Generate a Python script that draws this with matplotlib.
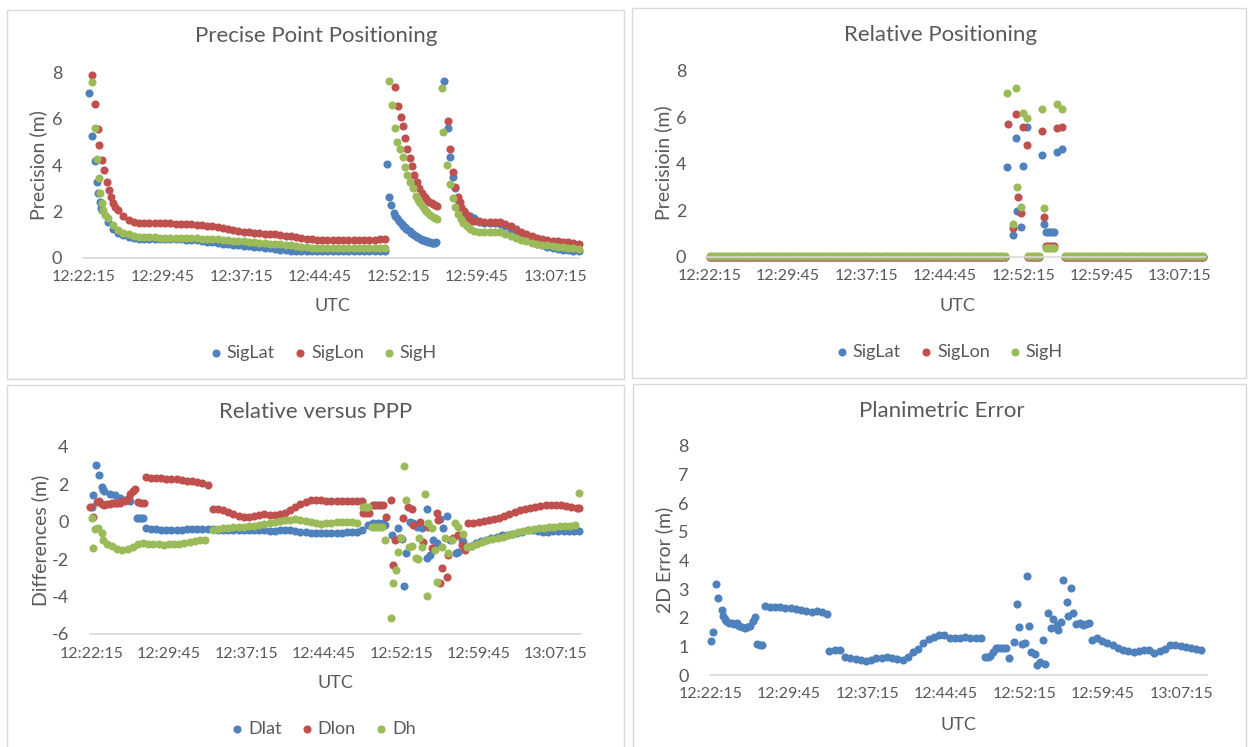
import numpy as np
import matplotlib
matplotlib.use("Agg")
import matplotlib.pyplot as plt
from matplotlib.patches import Rectangle

plt.rcParams['font.family'] = ['Lato', 'DejaVu Sans']
plt.rcParams['axes.unicode_minus'] = False

BLUE = "#4F81BD"
RED = "#C0504D"
GREEN = "#9BBB59"
TXT = "#595959"
LINE = "#D9D9D9"

# times are minutes after 12:00:00 UTC
tick_labels = ["12:22:15", "12:29:45", "12:37:15", "12:44:45", "12:52:15", "12:59:45", "13:07:15"]

# ---------------- Precise Point Positioning (SigLat / SigLon / SigH) ----------------
# isolated points (t, value) and runs (start, step, values)
ppp_lat_pts = [(22.75, 7.10), (23.00, 5.27), (23.27, 4.16), (23.45, 3.25), (23.60, 2.80), (23.75, 2.40), (23.90, 2.15),
               (51.16, 4.05), (51.41, 2.64), (51.60, 2.27), (51.85, 1.92), (52.00, 1.80), (52.15, 1.70), (52.30, 1.60),
               (52.45, 1.52), (52.60, 1.45), (52.75, 1.38), (52.90, 1.30), (53.05, 1.25), (53.20, 1.20), (53.35, 1.14),
               (53.50, 1.08), (53.65, 1.02), (53.80, 0.97), (53.95, 0.92), (54.10, 0.88), (54.25, 0.84), (54.40, 0.80),
               (54.55, 0.77), (54.70, 0.74), (54.85, 0.72), (55.00, 0.70), (55.15, 0.68), (55.30, 0.66), (55.45, 0.64),
               (55.60, 0.63), (55.75, 0.63), (55.90, 0.65),
               (56.66, 7.62), (57.04, 5.60), (57.20, 4.37), (57.46, 3.50), (57.68, 3.00), (57.99, 2.50), (58.30, 2.06),
               (58.55, 1.92), (58.80, 1.85), (59.10, 1.78)]
ppp_lat_runs = [(24.0, 0.5, [2.05, 1.55, 1.25, 1.08, 0.98, 0.90, 0.85, 0.82, 0.81, 0.80, 0.80, 0.80, 0.79, 0.79, 0.78,
                             0.78, 0.77, 0.76, 0.74, 0.72, 0.69, 0.66, 0.63, 0.60, 0.57, 0.55, 0.52, 0.50, 0.48, 0.46,
                             0.44, 0.42, 0.39, 0.37, 0.34, 0.32, 0.30, 0.28, 0.27, 0.27, 0.26, 0.26, 0.26, 0.26, 0.26,
                             0.26, 0.26, 0.26, 0.26, 0.26, 0.27, 0.27, 0.27, 0.27, 0.27]),
                (59.5, 0.5, [1.70, 1.55, 1.50, 1.50, 1.48, 1.46, 1.38, 1.25, 1.10, 0.95, 0.82, 0.70, 0.60, 0.52, 0.45,
                             0.40, 0.36, 0.33, 0.31, 0.29, 0.28])]

ppp_lon_pts = [(23.00, 7.88), (23.27, 6.64), (23.56, 5.56), (23.72, 4.88), (24.00, 4.20), (24.20, 3.80), (24.40, 3.25),
               (24.65, 2.93), (24.85, 2.60), (25.05, 2.35), (25.25, 2.18),
               (51.95, 7.36), (52.20, 6.54), (52.49, 6.07), (52.68, 5.70), (52.90, 5.17), (53.13, 4.69), (53.38, 4.30),
               (53.60, 3.97), (53.76, 3.58), (54.02, 3.25), (54.27, 3.00), (54.50, 2.78), (54.81, 2.60), (55.05, 2.50),
               (55.23, 2.42), (55.45, 2.36), (55.61, 2.32), (55.80, 2.27), (55.93, 2.25),
               (57.04, 5.92), (57.20, 4.69), (57.46, 3.72), (57.68, 3.07), (57.93, 2.64), (58.15, 2.40), (58.30, 2.20),
               (58.55, 2.00), (58.80, 1.85), (59.05, 1.70), (59.27, 1.60)]
ppp_lon_runs = [(25.5, 0.5, [2.05, 1.80, 1.62, 1.53, 1.50, 1.50, 1.49, 1.50, 1.49, 1.48, 1.48, 1.47, 1.46, 1.45, 1.44,
                             1.42, 1.40, 1.38, 1.36, 1.32, 1.28, 1.24, 1.20, 1.16, 1.12, 1.10, 1.07, 1.05, 1.03, 1.01,
                             1.00, 0.97, 0.94, 0.91, 0.88, 0.85, 0.82, 0.79, 0.77, 0.76, 0.76, 0.76, 0.76, 0.76, 0.77,
                             0.76, 0.76, 0.76, 0.76, 0.77, 0.78, 0.78]),
                (59.5, 0.5, [1.58, 1.56, 1.55, 1.55, 1.54, 1.52, 1.45, 1.35, 1.22, 1.12, 1.02, 0.93, 0.86, 0.80, 0.76,
                             0.73, 0.70, 0.68, 0.65, 0.62, 0.58])]

ppp_h_pts = [(23.00, 7.58), (23.27, 5.60), (23.50, 4.26), (23.65, 3.43), (23.80, 2.78), (23.95, 2.35), (24.10, 2.05),
             (24.25, 1.85),
             (51.41, 7.65), (51.66, 6.60), (51.95, 5.60), (52.17, 5.02), (52.43, 4.69), (52.68, 4.33), (52.90, 3.91),
             (53.13, 3.58), (53.38, 3.29), (53.70, 3.00), (53.95, 2.67), (54.15, 2.50), (54.34, 2.35), (54.60, 2.18),
             (54.81, 2.06), (55.05, 1.95), (55.29, 1.85), (55.55, 1.76), (55.77, 1.70), (55.99, 1.66),
             (56.41, 7.33), (56.57, 5.45), (56.88, 4.00), (57.20, 3.19), (57.46, 2.57), (57.68, 2.20), (57.99, 1.89),
             (58.25, 1.65), (58.48, 1.49), (58.80, 1.35), (59.11, 1.23)]
ppp_h_runs = [(24.5, 0.5, [1.70, 1.40, 1.20, 1.08, 1.00, 0.93, 0.90, 0.88, 0.87, 0.87, 0.86, 0.86, 0.85, 0.85, 0.84,
                           0.84, 0.83, 0.83, 0.82, 0.81, 0.80, 0.78, 0.77, 0.75, 0.73, 0.72, 0.70, 0.68, 0.66, 0.64,
                           0.62, 0.60, 0.59, 0.57, 0.55, 0.52, 0.49, 0.46, 0.44, 0.42, 0.41, 0.40, 0.39, 0.39, 0.39,
                           0.40, 0.40, 0.40, 0.40, 0.40, 0.41, 0.41, 0.41, 0.41]),
              (59.5, 0.5, [1.15, 1.12, 1.12, 1.12, 1.12, 1.10, 1.02, 0.93, 0.84, 0.76, 0.70, 0.64, 0.60, 0.55, 0.52,
                           0.49, 0.46, 0.44, 0.42, 0.40, 0.38])]

# ---------------- Relative Positioning ----------------
# epochs where all three sigmas sit on zero
rel_zero_spans = [(22.25, 50.5), (52.75, 53.75), (56.25, 69.5)]
rel_zero_level = {"SigLat": -0.02, "SigLon": 0.0, "SigH": 0.03}
rel_lat_pts = [(50.74, 3.84), (51.32, 0.93), (51.54, 5.09), (51.64, 1.98), (52.05, 1.26), (52.27, 3.90), (52.60, 5.56),
               (54.03, 4.36), (54.25, 1.40), (54.45, 1.08), (54.65, 1.08), (54.85, 1.08), (55.05, 1.08), (55.25, 1.08),
               (55.46, 4.52), (56.00, 4.63)]
rel_lon_pts = [(50.78, 5.70), (51.32, 1.22), (51.54, 6.14), (51.73, 2.58), (52.05, 1.86), (52.27, 5.59), (52.60, 4.80),
               (54.03, 5.40), (54.25, 1.72), (54.45, 0.46), (54.65, 0.46), (54.85, 0.46), (55.05, 0.46), (55.25, 0.46),
               (55.46, 5.52), (56.00, 5.59)]
rel_h_pts = [(50.74, 7.03), (51.32, 1.40), (51.54, 7.27), (51.70, 3.01), (52.05, 2.12), (52.27, 6.16), (52.60, 5.95),
             (54.03, 6.34), (54.25, 2.08), (54.45, 0.36), (54.65, 0.36), (54.85, 0.36), (55.05, 0.36), (55.25, 0.36),
             (55.46, 6.57), (56.00, 6.35)]

# ---------------- Relative versus PPP (Dlat / Dlon / Dh) ----------------
rvp_lat_pts = [(22.27, 0.80), (22.43, 1.42), (22.71, 3.00), (23.00, 2.49), (23.24, 1.86), (23.40, 1.69),
               (26.63, 0.20), (26.85, 0.20), (27.05, 0.20), (27.27, 0.20),
               (50.70, -0.18), (51.34, -0.71), (51.98, -0.36), (52.30, -0.91), (52.53, -3.42), (52.72, -1.69),
               (53.11, 0.00), (53.43, -0.09), (53.76, -0.30), (54.24, -0.36), (54.73, 0.70), (54.79, -1.96),
               (55.05, -1.78), (55.37, -0.98), (55.70, -1.16), (56.02, 0.12), (56.28, -0.36), (56.73, 0.30),
               (56.99, -0.98), (57.57, -1.69), (57.80, -1.60), (58.12, -0.98), (58.28, -1.07)]
rvp_lat_runs = [(23.5, 0.5, [1.65, 1.50, 1.42, 1.28, 1.18, 1.08]),
                (27.5, 0.5, [-0.36, -0.42, -0.42, -0.43, -0.43, -0.43, -0.43, -0.43, -0.42, -0.42, -0.42, -0.42,
                             -0.42, -0.42, -0.43, -0.44, -0.45, -0.45, -0.46, -0.46, -0.47, -0.47, -0.46, -0.47,
                             -0.50, -0.48, -0.47, -0.47, -0.47, -0.50, -0.55, -0.58, -0.60, -0.60, -0.60, -0.60,
                             -0.60, -0.60, -0.60, -0.58, -0.58, -0.56, -0.45, -0.20, -0.06, -0.06, -0.08]),
                (58.5, 0.5, [-1.35, -1.28, -1.15, -1.05, -0.98, -0.90, -0.80, -0.74, -0.70, -0.64, -0.60, -0.55,
                             -0.47, -0.45, -0.50, -0.57, -0.58, -0.52, -0.50, -0.48, -0.48, -0.48, -0.48])]

rvp_lon_pts = [(22.10, 0.80), (22.43, 0.26),
               (48.60, 0.47), (48.85, 0.45), (49.10, 0.47),
               (50.79, 0.26), (51.24, 1.15), (51.43, -2.32), (51.66, -0.98), (52.14, -0.89), (52.47, 0.17),
               (52.95, 0.79), (53.27, 0.67), (53.43, -0.18), (54.08, 0.00), (54.40, -1.07), (54.89, -0.27),
               (55.21, -1.43), (55.70, 0.44), (55.86, 0.09), (56.02, -3.29), (56.18, -2.49), (56.73, -2.98),
               (56.83, -1.78), (57.31, -0.89), (57.80, -0.71), (58.12, -1.25), (58.44, -1.51), (69.45, 0.71)]
rvp_lon_runs = [(22.75, 0.25, [1.06, 1.12, 0.95, 0.90, 0.92, 0.95, 0.97, 0.98, 1.00, 1.02, 1.08, 1.12, 1.20, 1.45,
                               1.62, 1.72]),
                (26.8, 0.25, [1.06, 1.02, 1.00]),
                (27.5, 0.5, [2.36, 2.34, 2.32, 2.32, 2.30, 2.30, 2.28, 2.22, 2.18, 2.16, 2.12, 2.08, 1.98]),
                (34.0, 0.5, [0.70, 0.67, 0.60, 0.50, 0.42, 0.32, 0.27, 0.26, 0.30, 0.38, 0.40, 0.37, 0.35, 0.40,
                             0.48, 0.60, 0.76, 0.92, 1.05, 1.15, 1.18, 1.15, 1.10, 1.10, 1.08, 1.08, 1.10, 1.10,
                             1.10, 1.12]),
                (49.5, 0.25, [0.88, 0.88, 0.88, 0.88, 0.88]),
                (58.75, 0.5, [-0.09, -0.05, 0.00, 0.03, 0.08, 0.13, 0.20, 0.30, 0.42, 0.53, 0.60, 0.66, 0.71, 0.76,
                              0.82, 0.87, 0.88, 0.88, 0.88, 0.85, 0.80, 0.74])]

rvp_h_pts = [(22.27, 0.17), (22.43, -1.43), (22.59, -0.41), (22.90, -0.36), (23.24, -0.63), (23.40, -0.98),
             (48.60, 0.79), (48.85, 0.79), (49.07, 0.79),
             (50.69, -0.98), (51.24, -5.17), (51.43, -3.26), (51.76, -2.59), (51.98, -1.60), (52.21, -0.89),
             (52.53, 2.99), (52.72, 1.15), (53.05, -1.34), (53.27, -1.30), (53.69, -1.96), (53.92, -2.01),
             (54.02, -0.89), (54.24, -1.34), (54.57, 1.47), (54.73, -3.97), (54.89, -0.09), (55.21, -0.36),
             (55.53, -1.51), (55.70, -3.20), (56.18, -1.34), (56.50, -0.89), (56.83, -1.69), (57.15, -0.98),
             (57.47, -0.06), (57.80, -0.27), (58.28, -0.66), (69.45, 1.54)]
rvp_h_runs = [(23.75, 0.5, [-1.20, -1.30, -1.45, -1.52, -1.48, -1.35, -1.22, -1.15, -1.18, -1.20, -1.22, -1.25,
                            -1.22, -1.22, -1.20, -1.15, -1.08, -1.03, -1.00, -0.98]),
              (34.0, 0.5, [-0.45, -0.40, -0.35, -0.32, -0.30, -0.28, -0.27, -0.26, -0.24, -0.20, -0.12, -0.06,
                           0.00, 0.04, 0.06, 0.10, 0.12, 0.10, 0.05, 0.00, -0.08, -0.12, -0.10, -0.06, -0.04,
                           -0.02, -0.02, -0.03, -0.05]),
              (49.4, 0.25, [-0.31, -0.31, -0.31, -0.31, -0.31]),
              (58.6, 0.5, [-1.34, -1.28, -1.20, -1.10, -1.00, -0.95, -0.88, -0.80, -0.72, -0.65, -0.58, -0.50,
                           -0.43, -0.40, -0.35, -0.32, -0.30, -0.28, -0.25, -0.24, -0.22, -0.20])]

# ---------------- Planimetric Error ----------------
pe_pts = [(22.23, 1.20), (22.43, 1.51), (22.74, 3.17), (22.97, 2.70), (23.29, 2.26), (23.45, 2.06), (23.60, 1.95),
          (26.70, 1.08), (26.95, 1.05), (27.20, 1.03),
          (50.82, 0.58), (51.26, 1.16), (51.52, 2.47), (51.74, 1.68), (52.06, 1.08), (52.31, 1.10), (52.54, 3.46),
          (52.73, 1.72), (52.86, 0.81), (53.27, 0.73), (53.49, 0.35), (53.75, 0.46), (54.00, 1.22), (54.23, 0.38),
          (54.48, 2.17), (54.77, 1.63), (55.03, 1.97), (55.34, 1.74), (55.50, 1.57), (55.73, 1.86), (55.98, 3.33),
          (56.30, 2.56), (56.46, 2.06), (56.68, 3.05), (56.94, 2.15), (57.19, 1.78), (57.58, 1.82), (57.90, 1.74),
          (58.20, 1.78), (58.47, 1.82)]
pe_runs = [(23.75, 0.25, [1.88, 1.82, 1.80, 1.78, 1.80, 1.72, 1.68, 1.64, 1.68, 1.72, 1.90, 2.03]),
           (27.4, 0.5, [2.40, 2.37, 2.36, 2.36, 2.35, 2.33, 2.30, 2.28, 2.25, 2.20, 2.22, 2.20, 2.12]),
           (33.6, 0.5, [0.85, 0.86, 0.87, 0.64, 0.60, 0.55, 0.52, 0.50, 0.52, 0.58, 0.60, 0.64, 0.60, 0.55, 0.52,
                        0.62, 0.80, 0.90, 1.13, 1.26, 1.34, 1.38, 1.38, 1.30, 1.28, 1.30, 1.31, 1.30, 1.30, 1.30]),
           (48.5, 0.25, [0.64, 0.64, 0.66, 0.80, 0.93, 0.93, 0.93, 0.93, 0.93]),
           (58.7, 0.5, [1.22, 1.28, 1.18, 1.12, 1.06, 0.95, 0.87, 0.82, 0.81, 0.84, 0.86, 0.86, 0.78, 0.82, 0.92,
                        1.03, 1.05, 1.02, 0.97, 0.93, 0.89, 0.87])]


def to_min(s):
    h, m, sec = map(int, s.split(":"))
    return (h - 12) * 60 + m + sec / 60


def expand(pts, runs=()):
    t = [p[0] for p in pts]
    v = [p[1] for p in pts]
    for start, step, vals in runs:
        t += [start + step * i for i in range(len(vals))]
        v += list(vals)
    return np.array(t), np.array(v)


def zero_runs(level, step=0.25):
    runs = []
    for a, b in rel_zero_spans:
        n = int(round((b - a) / step)) + 1
        runs.append((a, step, [level] * n))
    return runs


W, H = 1248, 747
fig = plt.figure(figsize=(W / 100, H / 100), dpi=100)


def box(x0, y0, x1, y1):
    return [x0 / W, 1 - y1 / H, (x1 - x0) / W, (y1 - y0) / H]


def ftext(x, y, s, **kw):
    fig.text(x / W, 1 - y / H, s, color=TXT, ha="center", va="center", **kw)


# chart frames
for x0, y0, x1, y1 in [(7, 10, 624, 379), (632, 8, 1246, 378), (7, 385, 624, 760), (633, 384, 1246, 760)]:
    fig.add_artist(Rectangle((x0 / W, 1 - y1 / H), (x1 - x0) / W, (y1 - y0) / H, transform=fig.transFigure,
                             fill=False, ec=LINE, lw=1.0))

MS = 34
TITLE_FS = 16
LABEL_FS = 13
YLABEL_FS = 14


def setup(ax, xlim, ylim, yticks):
    ax.set_xlim(*xlim)
    ax.set_ylim(*ylim)
    ax.set_yticks(yticks)
    ax.set_xticks([to_min(s) for s in tick_labels])
    ax.set_xticklabels(tick_labels)
    for side in ["top", "right", "left"]:
        ax.spines[side].set_visible(False)
    ax.spines["bottom"].set_color(LINE)
    ax.spines["bottom"].set_linewidth(1.2)
    ax.tick_params(axis="x", length=0, pad=9, labelsize=11.5, labelcolor=TXT)
    ax.tick_params(axis="y", length=0, pad=15, labelsize=13, labelcolor=TXT)
    ax.patch.set_alpha(0)


def legend(ax, handles, labels, x, y):
    ax.legend(handles, labels, loc="center", bbox_to_anchor=(x / W, 1 - y / H), bbox_transform=fig.transFigure,
              ncol=3, frameon=False, fontsize=13, labelcolor=TXT, handletextpad=0.1, columnspacing=0.9,
              handlelength=1.0, borderaxespad=0, markerscale=1.0)


# panel 1
ax1 = fig.add_axes(box(83, 72.7, 579, 257.5))
hs = []
for (pts, runs), col in zip([(ppp_lat_pts, ppp_lat_runs), (ppp_lon_pts, ppp_lon_runs), (ppp_h_pts, ppp_h_runs)],
                            [BLUE, RED, GREEN]):
    t, v = expand(pts, runs)
    hs.append(ax1.scatter(t, v, s=MS, color=col, lw=0, clip_on=False))
setup(ax1, (22.15, 69.53), (0, 8), [0, 2, 4, 6, 8])
legend(ax1, hs, ["SigLat", "SigLon", "SigH"], 322, 353)
ftext(316, 36, "Precise Point Positioning", fontsize=TITLE_FS)
ftext(38, 165, "Precision (m)", fontsize=YLABEL_FS, rotation=90)
ftext(332, 306, "UTC", fontsize=LABEL_FS)

# panel 2
ax2 = fig.add_axes(box(707, 70.7, 1205, 256.7))
hs = []
for pts, lvl, col in zip([rel_lat_pts, rel_lon_pts, rel_h_pts], ["SigLat", "SigLon", "SigH"], [BLUE, RED, GREEN]):
    t, v = expand(pts, zero_runs(rel_zero_level[lvl]))
    hs.append(ax2.scatter(t, v, s=MS, color=col, lw=0, clip_on=False))
setup(ax2, (22.0, 69.66), (0, 8), [0, 2, 4, 6, 8])
legend(ax2, hs, ["SigLat", "SigLon", "SigH"], 948, 352)
ftext(941, 35, "Relative Positioning", fontsize=TITLE_FS)
ftext(663, 163, "Precisioin (m)", fontsize=YLABEL_FS, rotation=90)
ftext(957, 306, "UTC", fontsize=LABEL_FS)

# panel 3
ax3 = fig.add_axes(box(89.5, 446.7, 581, 634))
hs = []
for (pts, runs), col in zip([(rvp_lat_pts, rvp_lat_runs), (rvp_lon_pts, rvp_lon_runs), (rvp_h_pts, rvp_h_runs)],
                            [BLUE, RED, GREEN]):
    t, v = expand(pts, runs)
    hs.append(ax3.scatter(t, v, s=MS, color=col, lw=0, clip_on=False))
setup(ax3, (22.06, 69.68), (-6, 4), [-6, -4, -2, 0, 2, 4])
legend(ax3, hs, ["Dlat", "Dlon", "Dh"], 322, 729)
ftext(316, 412, "Relative versus PPP", fontsize=TITLE_FS)
ftext(40, 540, "Differences (m)", fontsize=YLABEL_FS, rotation=90)
ftext(335, 683, "UTC", fontsize=LABEL_FS)

# panel 4
ax4 = fig.add_axes(box(709.6, 445.7, 1207, 675))
t, v = expand(pe_pts, pe_runs)
ax4.scatter(t, v, s=MS, color=BLUE, lw=0, clip_on=False)
setup(ax4, (22.14, 69.73), (0, 8), list(range(9)))
ftext(942, 411, "Planimetric Error", fontsize=TITLE_FS)
ftext(664, 560, "2D Error (m)", fontsize=YLABEL_FS, rotation=90)
ftext(958, 725, "UTC", fontsize=LABEL_FS)

fig.savefig("out.png", dpi=100, facecolor="white")
